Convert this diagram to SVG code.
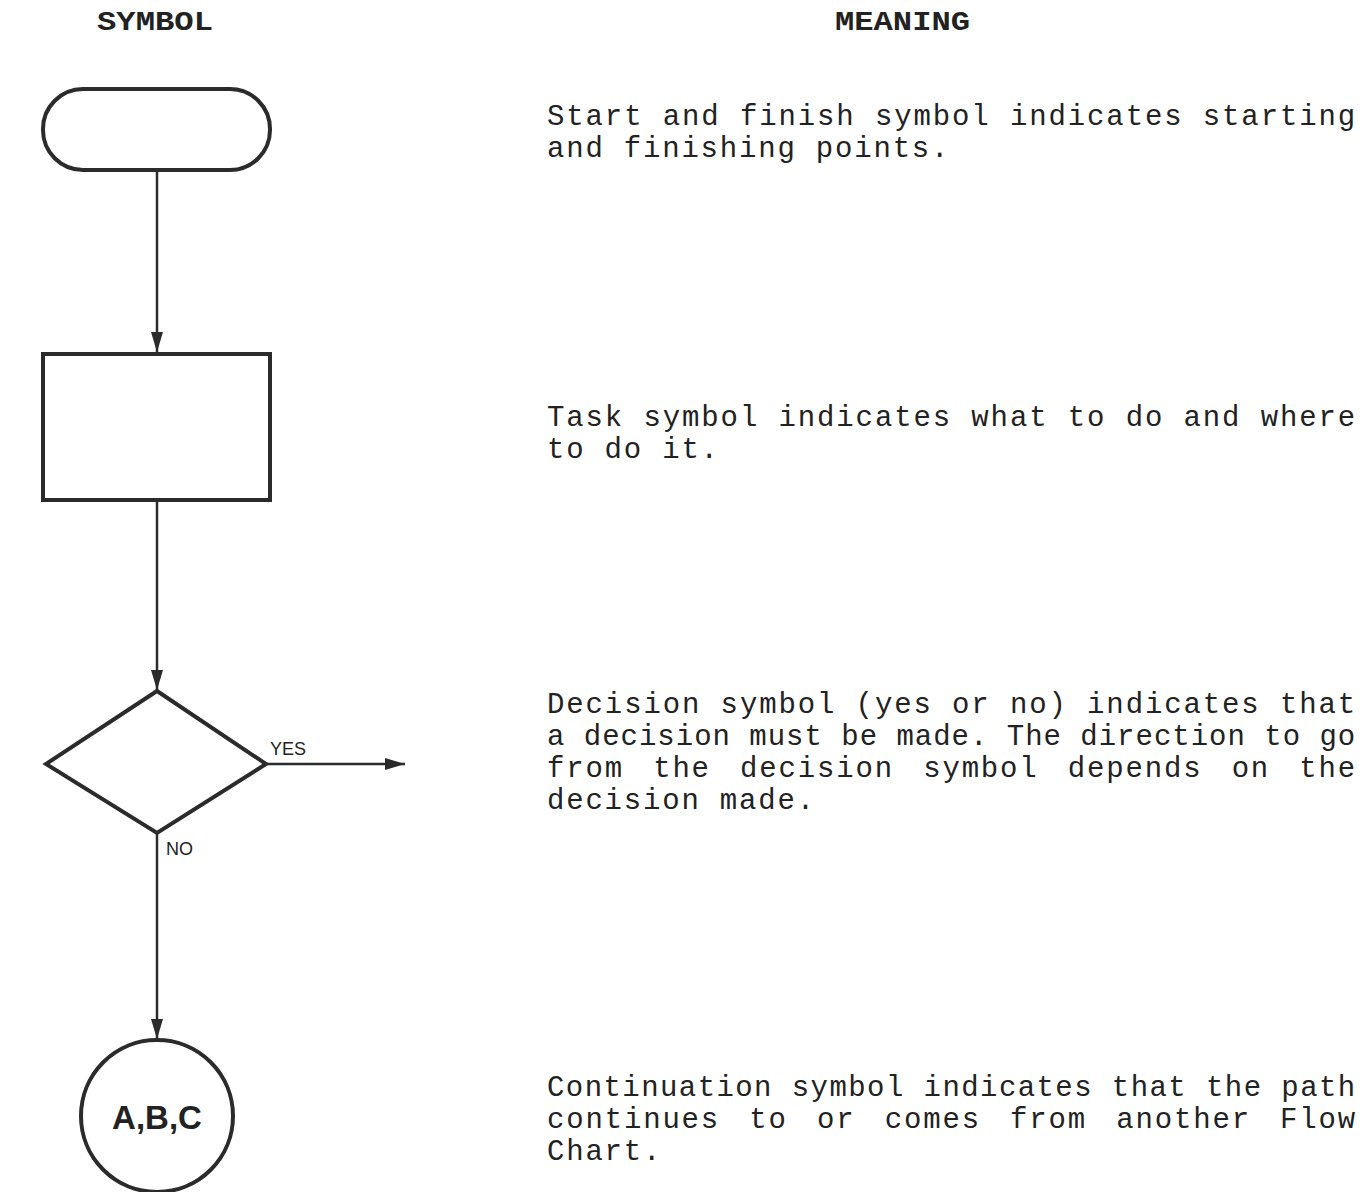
<svg xmlns="http://www.w3.org/2000/svg" width="1372" height="1192" viewBox="0 0 1372 1192">
<style>
.bg{fill:#ffffff}
.shape{fill:none;stroke:#2b2b2b;stroke-width:4}
.conn{fill:none;stroke:#2b2b2b;stroke-width:2.5}
.head{font-family:"Liberation Mono","Courier New",monospace;font-weight:bold;font-size:27px;fill:#222}
.body{font-family:"Liberation Mono","Courier New",monospace;font-size:29px;letter-spacing:1.8px;fill:#222}
.lbl{font-family:"Liberation Sans",Arial,sans-serif;font-size:18px;fill:#222}
.big{font-family:"Liberation Sans",Arial,sans-serif;font-weight:bold;font-size:33px;fill:#222}
</style>
<defs>
<marker id="arr" viewBox="0 0 20 12" refX="20" refY="6" markerWidth="20" markerHeight="12" markerUnits="userSpaceOnUse" orient="auto">
<path d="M0,0 L20,6 L0,12 Z" fill="#2b2b2b"/>
</marker>
</defs>
<rect class="bg" x="0" y="0" width="1372" height="1192"/>
<g id="headings">
<text class="head" x="97" y="30" textLength="116" lengthAdjust="spacingAndGlyphs">SYMBOL</text>
<text class="head" x="835" y="30" textLength="135" lengthAdjust="spacingAndGlyphs">MEANING</text>
</g>
<g id="connectors">
<path class="conn" d="M157,170 L157,352" marker-end="url(#arr)"/>
<path class="conn" d="M157,500 L157,690" marker-end="url(#arr)"/>
<path class="conn" d="M266,764 L405,764" marker-end="url(#arr)"/>
<path class="conn" d="M157,833 L157,1039" marker-end="url(#arr)"/>
<text class="lbl" x="270" y="755">YES</text>
<text class="lbl" x="166" y="855">NO</text>
</g>
<g id="start-finish">
<rect class="shape" x="43" y="89" width="227" height="81" rx="40" ry="40"/>
</g>
<g id="task">
<rect class="shape" x="43" y="354" width="227" height="146"/>
</g>
<g id="decision">
<path class="shape" d="M157,691 L266,764 L157,833 L46,764 Z" stroke-linejoin="miter"/>
</g>
<g id="continuation">
<circle class="shape" cx="157" cy="1116" r="76"/>
<text class="big" x="157" y="1129" text-anchor="middle">A,B,C</text>
</g>
<g id="meanings">
<text class="body" x="547" y="125" textLength="810" lengthAdjust="spacing">Start and finish symbol indicates starting</text>
<text class="body" x="547" y="157">and finishing points.</text>
<text class="body" x="547" y="426" textLength="810" lengthAdjust="spacing">Task symbol indicates what to do and where</text>
<text class="body" x="547" y="458">to do it.</text>
<text class="body" x="547" y="713" textLength="810" lengthAdjust="spacing">Decision symbol (yes or no) indicates that</text>
<text class="body" x="547" y="745" textLength="810" lengthAdjust="spacing">a decision must be made. The direction to go</text>
<text class="body" x="547" y="777" word-spacing="10" textLength="810" lengthAdjust="spacing">from the decision symbol depends on the</text>
<text class="body" x="547" y="809">decision made.</text>
<text class="body" x="547" y="1096" textLength="810" lengthAdjust="spacing">Continuation symbol indicates that the path</text>
<text class="body" x="547" y="1128" word-spacing="10" textLength="810" lengthAdjust="spacing">continues to or comes from another Flow</text>
<text class="body" x="547" y="1160">Chart.</text>
</g>
</svg>
